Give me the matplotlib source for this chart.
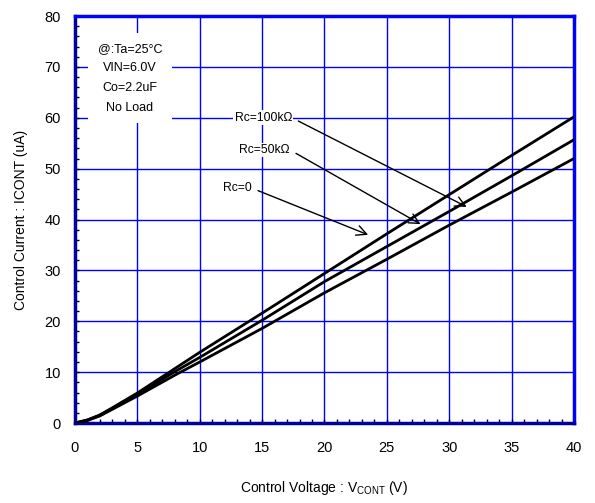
import matplotlib
matplotlib.use("Agg")
import matplotlib.pyplot as plt
from matplotlib.ticker import MultipleLocator

plt.rcParams['font.family'] = ['Liberation Sans', 'DejaVu Sans']
plt.rcParams['mathtext.fontset'] = 'custom'
plt.rcParams['mathtext.rm'] = 'Liberation Sans'

# control voltage (V)
vcont = [0, 1, 2, 3, 5, 8, 10, 15, 20, 25, 30, 35, 40]
# control current (uA) for each Rc
icont_100k = [0, 0.6, 1.6, 3.0, 5.9, 10.7, 13.9, 21.6, 29.4, 37.2, 44.9, 52.6, 60.2]
icont_50k = [0, 0.6, 1.5, 2.9, 5.6, 10.1, 12.9, 20.2, 27.8, 34.7, 41.6, 48.6, 55.7]
icont_0 = [0, 0.5, 1.4, 2.7, 5.3, 9.4, 12.0, 18.6, 25.6, 32.2, 38.9, 45.4, 52.0]

labels = ['Rc=100k\u03a9', 'Rc=50k\u03a9', 'Rc=0']
label_xy = [(15.1, 60.0), (15.2, 53.7), (13.0, 46.2)]
arrow_to = [(31.4, 42.5), (27.7, 39.1), (23.5, 37.0)]

cond_text = '@:Ta=25\u00b0C\nVIN=6.0V\nCo=2.2uF\nNo Load'

fig = plt.figure(figsize=(5.95, 5.03), dpi=100)
ax = fig.add_axes([0.126, 0.159, 0.8387, 0.809])

for yy in [icont_100k, icont_50k, icont_0]:
    ax.plot(vcont, yy, color='black', lw=2, zorder=3)

ax.set_xlim(0, 40)
ax.set_ylim(0, 80)
ax.xaxis.set_major_locator(MultipleLocator(5))
ax.xaxis.set_minor_locator(MultipleLocator(1))
ax.yaxis.set_major_locator(MultipleLocator(10))
ax.yaxis.set_minor_locator(MultipleLocator(2))
ax.grid(which='major', color='#0000ff', lw=1)
ax.tick_params(which='both', direction='in', length=3, width=1, color='black',
               top=False, right=False)
ax.tick_params(axis='x', which='major', pad=13, labelsize=10.5)
ax.tick_params(axis='y', which='major', pad=10, labelsize=10.5)

for side in ['top', 'right']:
    ax.spines[side].set_color('#0000ff')
    ax.spines[side].set_linewidth(2.5)
for side in ['left', 'bottom']:
    ax.spines[side].set_color('#00009a')
    ax.spines[side].set_linewidth(2.5)

ax.set_xlabel('Control Voltage : V$_{\\mathrm{CONT}}$ (V)', fontsize=10, labelpad=17)
ax.set_ylabel('Control Current : ICONT (uA)', fontsize=10, labelpad=12)

ax.text(4.4, 67.8, cond_text, ha='center', va='center', fontsize=9,
        linespacing=1.85,
        bbox=dict(facecolor='white', edgecolor='none', pad=7), zorder=4)

for lab, xy, to in zip(labels, label_xy, arrow_to):
    ax.annotate(lab, xy=to, xytext=xy, ha='center', va='center', fontsize=8.7,
                bbox=dict(facecolor='white', edgecolor='none', pad=1),
                arrowprops=dict(arrowstyle='->', color='black', lw=1,
                                relpos=(1, 0.5), shrinkA=4, shrinkB=0,
                                mutation_scale=18),
                zorder=4)

fig.savefig('out.png', dpi=100)
